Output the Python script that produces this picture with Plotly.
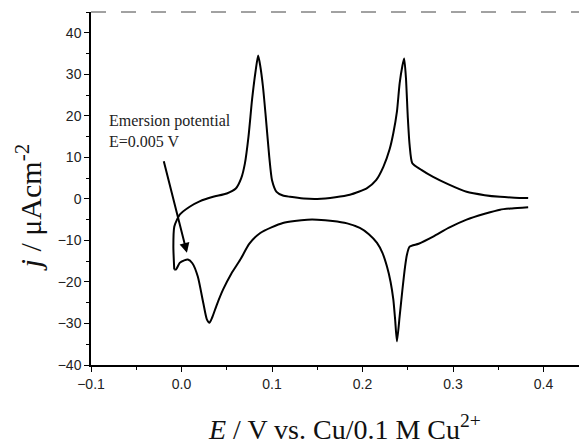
import plotly.graph_objects as go

# Anodic (positive-going) scan
anodic_E = [-0.008, -0.009, -0.008, -0.005, -0.002, 0.009, 0.020, 0.035, 0.050, 0.060,
            0.066, 0.070, 0.074, 0.078, 0.082, 0.0847, 0.087, 0.090, 0.093, 0.097,
            0.100, 0.105, 0.112, 0.120, 0.135, 0.150, 0.170, 0.186, 0.205, 0.215,
            0.223, 0.230, 0.234, 0.238, 0.241, 0.244, 0.246, 0.248, 0.250, 0.252,
            0.255, 0.265, 0.278, 0.295, 0.315, 0.335, 0.352, 0.368, 0.383]
anodic_j = [-17.0, -11.5, -6.7, -5.0, -3.8, -1.9, -0.6, 0.5, 1.3, 2.5,
            5.0, 8.5, 15.0, 24.0, 31.0, 34.5, 32.0, 27.0, 20.0, 10.0,
            4.5, 1.7, 0.8, 0.5, 0.1, 0.0, 0.4, 1.0, 2.6, 4.5,
            7.7, 12.0, 15.8, 21.0, 27.8, 32.0, 33.8, 29.0, 19.7, 13.0,
            8.6, 7.0, 5.3, 3.5, 1.7, 0.9, 0.5, 0.3, 0.2]

# Cathodic (negative-going) scan
cathodic_E = [0.383, 0.365, 0.352, 0.335, 0.315, 0.295, 0.278, 0.262, 0.252, 0.249,
              0.247, 0.244, 0.241, 0.238, 0.236, 0.234, 0.231, 0.227, 0.222, 0.216,
              0.207, 0.197, 0.183, 0.167, 0.150, 0.139, 0.125, 0.112, 0.100, 0.087,
              0.075, 0.065, 0.055, 0.046, 0.039, 0.034, 0.031, 0.028, 0.024, 0.018,
              0.012, 0.007, 0.003, -0.002, -0.006, -0.008]
cathodic_j = [-2.0, -2.3, -2.6, -3.6, -5.0, -7.0, -9.1, -10.8, -11.5, -13.5,
              -16.3, -22.0, -28.3, -34.3, -29.0, -24.2, -20.0, -16.3, -13.0, -10.6,
              -8.5, -7.0, -5.9, -5.3, -5.0, -5.0, -5.3, -5.8, -6.8, -8.2,
              -10.8, -14.6, -18.0, -21.8, -25.5, -28.5, -29.8, -29.0, -25.0, -18.7,
              -15.5, -14.6, -14.8, -15.4, -17.0, -17.0]

x_ticks = [-0.1, 0.0, 0.1, 0.2, 0.3, 0.4]
y_ticks = [-40, -30, -20, -10, 0, 10, 20, 30, 40]

fig = go.Figure()
for xs, ys in ((anodic_E, anodic_j), (cathodic_E, cathodic_j)):
    fig.add_trace(go.Scatter(x=xs, y=ys, mode="lines",
                             line=dict(color="black", width=2, shape="spline", smoothing=0.6),
                             showlegend=False, hoverinfo="skip"))

tickfont = dict(family="Liberation Sans, Arial", size=14, color="#222")
fig.update_layout(
    width=579, height=436,
    margin=dict(l=83, r=0, t=4, b=79),
    plot_bgcolor="white", paper_bgcolor="white",
    xaxis=dict(range=[-0.1, 0.448], tickvals=x_ticks, tickformat=".1f",
               showline=True, linecolor="black", linewidth=1.5,
               ticks="outside", ticklen=5, tickwidth=1, tickcolor="black",
               minor=dict(dtick=0.05, ticks="outside", ticklen=3, tickcolor="black"),
               showgrid=False, zeroline=False, tickfont=tickfont),
    yaxis=dict(range=[-40, 45], tickvals=y_ticks,
               showline=True, linecolor="black", linewidth=1.5,
               ticks="outside", ticklen=5, tickwidth=1, tickcolor="black",
               minor=dict(dtick=5, ticks="outside", ticklen=3, tickcolor="black"),
               showgrid=False, zeroline=False, tickfont=tickfont),
)

fig.add_shape(type="line", xref="paper", yref="paper", x0=0, x1=1, y0=1, y1=1,
              line=dict(color="#444", width=1, dash="longdash"))

fig.add_annotation(x=0.006, y=-13, ax=-0.020, ay=9.4, axref="x", ayref="y",
                   showarrow=True, arrowhead=2, arrowsize=1, arrowwidth=2,
                   arrowcolor="black", text="")
fig.add_annotation(x=-0.082, y=16.3, xref="x", yref="y", xanchor="left", yanchor="middle",
                   text="Emersion potential<br>E=0.005 V", showarrow=False, align="left",
                   font=dict(family="Liberation Serif, Times New Roman", size=16, color="#222"))

fig.add_annotation(x=0.511, y=-0.176, xref="paper", yref="paper",
                   text="<i>E</i> / V vs. Cu/0.1 M Cu<sup>2+</sup>", showarrow=False,
                   xanchor="center", yanchor="middle",
                   font=dict(family="Liberation Serif, Times New Roman", size=28, color="#111"))
fig.add_annotation(x=-0.126, y=0.445, xref="paper", yref="paper", textangle=-90,
                   text="<i>j</i> / μAcm<sup>-2</sup>", showarrow=False,
                   xanchor="center", yanchor="middle",
                   font=dict(family="Liberation Serif, Times New Roman", size=30, color="#111"))

fig.write_html("out.html")
